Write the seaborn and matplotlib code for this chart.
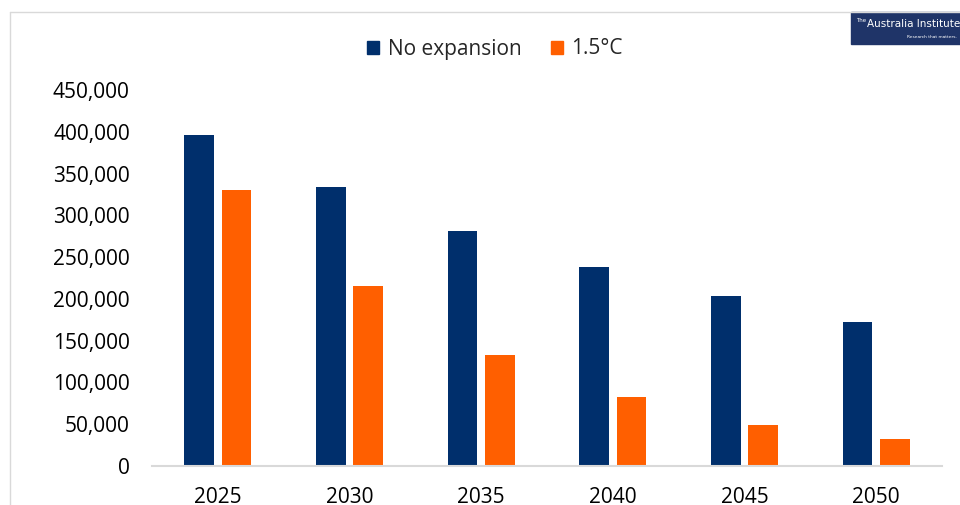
import pandas as pd
import matplotlib.pyplot as plt
import seaborn as sns
from matplotlib.lines import Line2D
from matplotlib.patches import Rectangle
from matplotlib.ticker import FuncFormatter

anos = ["2025", "2030", "2035", "2040", "2045", "2050"]
sem_expansao = [396000, 334000, 281000, 238000, 204000, 172000]
cenario_15 = [330000, 216000, 133000, 82000, 49000, 32000]
series = ["No expansion", "1.5°C"]

df = pd.DataFrame({
    "ano": anos * 2,
    "valor": sem_expansao + cenario_15,
    "cenario": [series[0]] * len(anos) + [series[1]] * len(anos),
})

sns.set_style("white")
plt.rcParams["font.family"] = ["Open Sans", "DejaVu Sans"]

fig = plt.figure(figsize=(9.6, 5.05), dpi=100)
ax = fig.add_axes([152 / 960, 1 - 466 / 505, 790 / 960, 376 / 505])

sns.barplot(data=df, x="ano", y="valor", hue="cenario", order=anos, hue_order=series,
            palette=["#002F6C", "#FF5F00"], width=0.566, gap=0.2, saturation=1,
            linewidth=0, ax=ax, legend=False)

ax.set_ylim(0, 450000)
ax.set_yticks(range(0, 450001, 50000))
ax.yaxis.set_major_formatter(FuncFormatter(lambda v, p: f"{int(v):,}"))
ax.set_xlabel("")
ax.set_ylabel("")
ax.tick_params(axis="both", length=0, labelsize=15, colors="#000000")
ax.tick_params(axis="y", pad=16)
ax.tick_params(axis="x", pad=15)
for lado in ["top", "right", "left"]:
    ax.spines[lado].set_visible(False)
ax.spines["bottom"].set_color("#d9d9d9")
ax.spines["bottom"].set_linewidth(1.5)

# legenda no topo
handles = [Rectangle((0, 0), 1, 1, color=c) for c in ["#002F6C", "#FF5F00"]]
fig.legend(handles, series, loc="center", bbox_to_anchor=(495 / 960, 1 - 49 / 505),
           ncol=2, frameon=False, fontsize=15, handlelength=0.6, handleheight=0.6,
           handletextpad=0.4, columnspacing=1.4)

# moldura cinza
fig.add_artist(Line2D([10 / 960, 10 / 960], [0, 1 - 12 / 505], color="#d9d9d9", lw=1,
                      transform=fig.transFigure))
fig.add_artist(Line2D([10 / 960, 1], [1 - 12 / 505, 1 - 12 / 505], color="#d9d9d9", lw=1,
                      transform=fig.transFigure))

# logo
fig.add_artist(Rectangle((851 / 960, 1 - 44 / 505), 109 / 960, 32 / 505, color="#1F3468",
                         transform=fig.transFigure))
fig.text(856 / 960, 1 - 21 / 505, "The", color="white", fontsize=4, va="center",
         family="Liberation Sans Narrow")
fig.text(867 / 960, 1 - 24 / 505, "Australia Institute", color="white", fontsize=7.5,
         va="center", family="Liberation Sans Narrow")
fig.text(957 / 960, 1 - 37 / 505, "Research that matters.", color="white", fontsize=3.2,
         va="center", ha="right", family="Liberation Sans Narrow")

plt.savefig("out.png", dpi=100)
plt.close()
